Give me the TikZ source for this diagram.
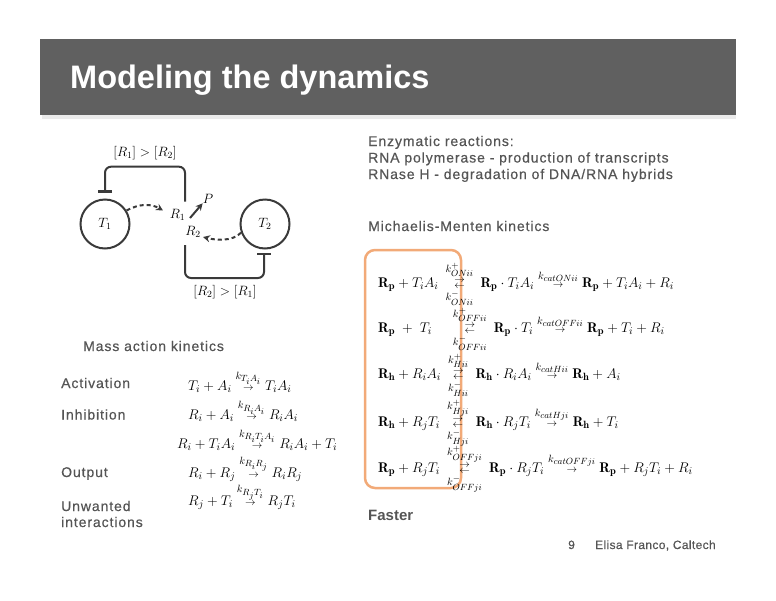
\RequirePackage{fix-cm}
\documentclass[tikz,border=0pt]{standalone}
\usepackage{amsmath}
\usepackage{fontspec}
\newfontfamily\bodyfont[LetterSpace=6.5,FakeBold=0.5]{Liberation Sans}
\newfontfamily\footfont[LetterSpace=3,FakeBold=0.5]{Liberation Sans}
\newfontfamily\titlefont{Liberation Sans}
\DeclareMathSizes{14}{14}{10.5}{9}
\usetikzlibrary{arrows.meta,calc}
\definecolor{barcol}{HTML}{606060}
\definecolor{txt}{HTML}{555555}
\definecolor{ink}{HTML}{3A3A3A}
\definecolor{boxor}{HTML}{F2AA78}
\newcommand\rev[2]{\mathrel{\mkern4mu\mathop{\vcenter{\offinterlineskip\hbox{$\scriptstyle\rightarrow$}\kern2.5pt\hbox{$\scriptstyle\leftarrow$}}}\limits^{#1}_{#2}\mkern4mu}}
\newcommand\fwd[1]{\mathrel{\overset{#1}{\scriptstyle\rightarrow}}}
\tikzset{
  body/.style={font=\bodyfont\fontsize{14}{16}\selectfont, text=txt, anchor=base west, inner sep=0pt},
  eq/.style={font=\fontsize{14}{17}\selectfont, anchor=base west, inner sep=0pt},
  ln/.style={draw=ink, line width=2pt},
  circ/.style={circle, draw=ink, line width=2pt, minimum size=49pt, inner sep=0pt, font=\fontsize{13.5}{15}\selectfont},
  lbl/.style={inner sep=0pt, font=\fontsize{13.5}{15}\selectfont},
  inh/.style={ln, rounded corners=6pt, -{Bar[width=14pt,line width=2.5pt]}},
  dasharr/.style={ln, dash pattern=on 4pt off 3pt, -{Stealth[length=7pt,width=7pt]}},
  solarr/.style={ln, -{Stealth[length=7pt,width=7pt]}},
}
\begin{document}
\begin{tikzpicture}[x=1pt,y=-1pt]
\useasboundingbox (0,0) rectangle (776,600);
% header
\fill[black!8] (42,115) rectangle (736,119);
\fill[barcol] (40,39) rectangle (736,115);
\node[anchor=base west, inner sep=0pt, text=white, font=\titlefont\bfseries\fontsize{32.5}{36}\selectfont] (title) at (70,88.3) {Modeling the dynamics};

% diagram
\node[circ] (T1) at (105,224) {$T_1$};
\node[circ] (T2) at (265,224) {$T_2$};
\node[lbl] (R1) at (177.5,215) {$R_1$};
\node[lbl] (R2) at (193,231.5) {$R_2$};
\node[lbl] (P) at (208,198.5) {$P$};
\node[lbl] (c12) at (145,153) {$[R_1]>[R_2]$};
\node[lbl] (c21) at (225,292) {$[R_2]>[R_1]$};
\coordinate (R1top) at (185,201.7);
\coordinate (T1bar) at (105,192.7);
\coordinate (R2bot) at (185,245);
\coordinate (T2bar) at (264,252.7);
\draw[inh] (R1top) |- (105,166.7) -- (T1bar);
\draw[inh] (R2bot) |- (264,278) -- (T2bar);
\draw[dasharr] (T1.32) .. controls (140,203) and (152,204) .. (163,210.5);
\draw[dasharr] (T2.200) .. controls (232,242) and (215,240) .. (203,237);
\draw[solarr] (190,218) -- (P.south west);

% mass action
\node[body] (mak) at (83,351) {Mass action kinetics};
\node[body] (act) at (61,388) {Activation};
\node[body] (inhl) at (61,419.5) {Inhibition};
\node[body] (outl) at (61,477) {Output};
\node[body] (unw) at (61,511) {Unwanted};
\node[body] (unw2) at (61,527) {interactions};
\node[eq] (e1) at (188,390) {$T_i+A_i\fwd{k_{T_iA_i}}T_iA_i$};
\node[eq] (e2) at (188,419.5) {$R_i+A_i\fwd{k_{R_iA_i}}R_iA_i$};
\node[eq] (e3) at (177,448) {$R_i+T_iA_i\fwd{k_{R_iT_iA_i}}R_iA_i+T_i$};
\node[eq] (e4) at (188,477) {$R_i+R_j\fwd{k_{R_iR_j}}R_iR_j$};
\node[eq] (e5) at (188,505.5) {$R_j+T_i\fwd{k_{R_jT_i}}R_jT_i$};

% right column
\node[body] (enz) at (368,146) {Enzymatic reactions:};
\node[body] (rnap) at (368,162.5) {RNA polymerase - production of transcripts};
\node[body] (rnh) at (368,179) {RNase H - degradation of DNA/RNA hybrids};
\node[body] (mm) at (368,231) {Michaelis-Menten kinetics};
\draw[draw=boxor, line width=2.5pt, rounded corners=10pt] (365,250) rectangle (461,488);
\node[eq] (m1) at (378,287) {$\mathbf{R_p}+T_iA_i\rev{k^+_{ONii}}{k^-_{ONii}}\mathbf{R_p}\cdot T_iA_i\fwd{k_{catONii}}\mathbf{R_p}+T_iA_i+R_i$};
\node[eq] (m2) at (378,332) {$\mathbf{R_p}\;+\;T_i\quad\rev{k^+_{OFFii}}{k^-_{OFFii}}\mathbf{R_p}\cdot T_i\fwd{k_{catOFFii}}\mathbf{R_p}+T_i+R_i$};
\node[eq] (m3) at (378,378) {$\mathbf{R_h}+R_iA_i\rev{k^+_{Hii}}{k^-_{Hii}}\mathbf{R_h}\cdot R_iA_i\fwd{k_{catHii}}\mathbf{R_h}+A_i$};
\node[eq] (m4) at (378,426) {$\mathbf{R_h}+R_jT_i\rev{k^+_{Hji}}{k^-_{Hji}}\mathbf{R_h}\cdot R_jT_i\fwd{k_{catHji}}\mathbf{R_h}+T_i$};
\node[eq] (m5) at (378,472) {$\mathbf{R_p}+R_jT_i\rev{k^+_{OFFji}}{k^-_{OFFji}}\mathbf{R_p}\cdot R_jT_i\fwd{k_{catOFFji}}\mathbf{R_p}+R_jT_i+R_i$};
\node[body, font=\titlefont\bfseries\fontsize{15}{18}\selectfont] (fast) at (368,520) {Faster};

% footer
\node[body, font=\footfont\fontsize{12}{14}\selectfont] (pg) at (568,549) {9};
\node[body, font=\footfont\fontsize{12}{14}\selectfont] (auth) at (595,549) {Elisa Franco, Caltech};
\end{tikzpicture}
\end{document}
